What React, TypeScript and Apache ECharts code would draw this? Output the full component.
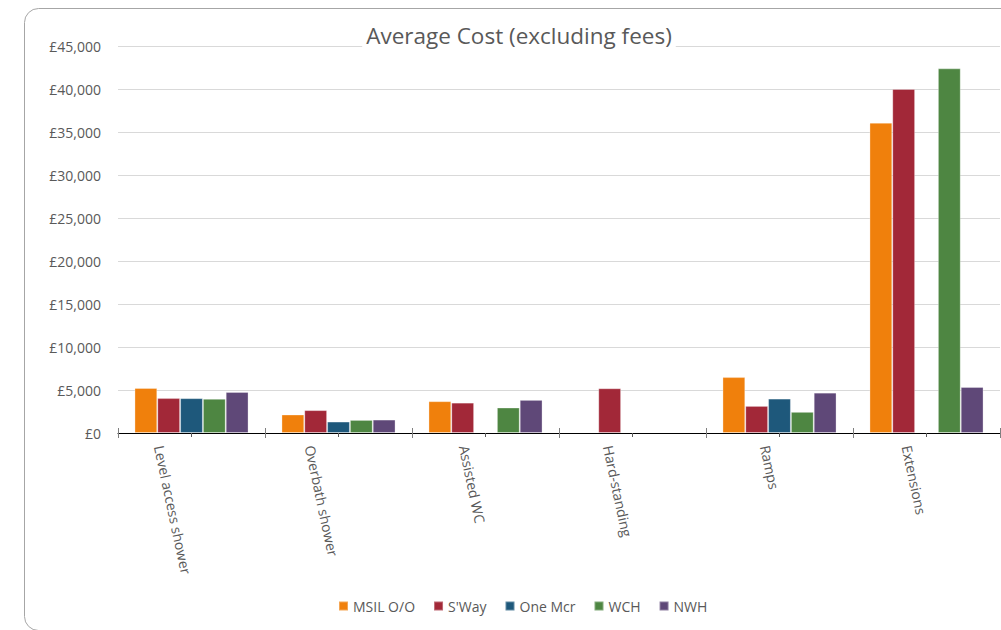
import React, { useEffect, useRef } from "react";
import * as echarts from "echarts";

// Categories and series values (GBP)
const categories = [
  "Level access shower",
  "Overbath shower",
  "Assisted WC",
  "Hard-standing",
  "Ramps",
  "Extensions",
];

const seriesNames = ["MSIL O/O", "S'Way", "One Mcr", "WCH", "NWH"];

const msil = [5230, 2150, 3700, null, 6500, 36080];
const sway = [4060, 2660, 3530, 5200, 3150, 40000];
const oneMcr = [4050, 1330, null, null, 4000, null];
const wch = [3980, 1520, 2960, null, 2460, 42400];
const nwh = [4770, 1560, 3850, null, 4690, 5350];

const seriesValues = [msil, sway, oneMcr, wch, nwh];
const seriesColors = ["#F0800C", "#A22838", "#1E587B", "#4E8642", "#5F4878"];

const yMax = 45000;
const yStep = 5000;

const title = "Average Cost (excluding fees)";

const FONT = '"Open Sans", "Noto Sans", sans-serif';
const LABEL_SIZE = 14;
const LABEL_ROTATE = 78; // degrees, clockwise

function measure(text: string, size: number): number {
  const c = document.createElement("canvas").getContext("2d");
  if (!c) return text.length * size * 0.52;
  c.font = `${size}px "Open Sans"`;
  return c.measureText(text).width;
}

export default function App() {
  const ref = useRef<HTMLDivElement>(null);

  useEffect(() => {
    if (!ref.current) return;
    const chart = echarts.init(ref.current, undefined, { renderer: "svg" });

    chart.setOption({
      animation: false,
      backgroundColor: "#ffffff",
      textStyle: { fontFamily: FONT },
      title: {
        text: title,
        left: 515,
        textAlign: "center",
        top: 24,
        padding: [0, 4],
        backgroundColor: "#ffffff",
        textStyle: {
          fontFamily: FONT,
          fontSize: 22.5,
          fontWeight: "normal",
          color: "#595959",
        },
        z: 10,
      },
      legend: {
        data: seriesNames,
        left: 333,
        top: 594,
        itemWidth: 9,
        itemHeight: 9,
        itemGap: 18,
        icon: "rect",
        textStyle: { fontFamily: FONT, fontSize: 14, color: "#595959" },
      },
      grid: {
        left: 118,
        right: 1,
        top: 46,
        bottom: 197,
        outerBoundsMode: "none",
      },
      xAxis: [
        {
          type: "category",
          data: categories,
          position: "bottom",
          axisLine: { show: true, lineStyle: { color: "#000000", width: 1 } },
          axisTick: {
            show: true,
            alignWithLabel: false,
            length: 5,
            lineStyle: { color: "#7f7f7f" },
          },
          // category names are drawn below as rotated texts
          axisLabel: { show: false },
          splitLine: { show: false },
        },
        {
          type: "category",
          data: categories,
          position: "bottom",
          axisLine: { show: false },
          axisTick: {
            show: true,
            inside: true,
            alignWithLabel: false,
            length: 5,
            lineStyle: { color: "#7f7f7f" },
          },
          axisLabel: { show: false },
          splitLine: { show: false },
        },
        {
          type: "category",
          data: categories,
          position: "bottom",
          axisLine: { show: false },
          axisTick: {
            show: true,
            alignWithLabel: true,
            length: 4,
            lineStyle: { color: "#595959" },
          },
          axisLabel: { show: false },
          splitLine: { show: false },
        },
      ],
      yAxis: {
        type: "value",
        min: 0,
        max: yMax,
        interval: yStep,
        axisLine: { show: false },
        axisTick: { show: false },
        axisLabel: {
          margin: 17,
          fontFamily: FONT,
          fontSize: 14,
          color: "#595959",
          formatter: (v: number) =>
            "£" + v.toLocaleString("en-GB", { maximumFractionDigits: 0 }),
        },
        splitLine: { lineStyle: { color: "#d9d9d9", width: 1 } },
      },
      series: seriesNames.map((name, i) => ({
        name,
        type: "bar",
        xAxisIndex: 0,
        data: seriesValues[i],
        barGap: "0%",
        barCategoryGap: "22.4%",
        itemStyle: {
          color: seriesColors[i],
          borderColor: "rgba(255,255,255,0.3)",
          borderWidth: 1,
        },
      })),
      graphic: [
        {
          id: "frame",
          type: "rect",
          left: 22,
          top: 6,
          shape: { width: 1010, height: 622, r: 14 },
          style: { fill: "none", stroke: "#a6a6a6", lineWidth: 1 },
          silent: true,
          z: -1,
        },
      ],
    });

    // Rotated category names: each reads downwards and ends at its tick.
    const r = (LABEL_ROTATE * Math.PI) / 180;
    const axisY = chart.convertToPixel({ yAxisIndex: 0 }, 0) as number;
    const labels = categories.map((name, i) => {
      const cx = chart.convertToPixel({ xAxisIndex: 0 }, name) as number;
      const L = measure(name, LABEL_SIZE);
      return {
        id: "cat" + i,
        type: "text",
        x: cx - Math.cos(r) * L - 5,
        y: axisY + 12.5,
        rotation: -r,
        silent: true,
        style: {
          text: name,
          font: `${LABEL_SIZE}px ${FONT}`,
          fill: "#595959",
          align: "left",
          verticalAlign: "middle",
        },
      };
    });
    chart.setOption({ graphic: labels });

    return () => chart.dispose();
  }, []);

  return (
    <div
      ref={ref}
      style={{ position: "fixed", left: 0, top: 0, width: 1001, height: 630 }}
    />
  );
}
